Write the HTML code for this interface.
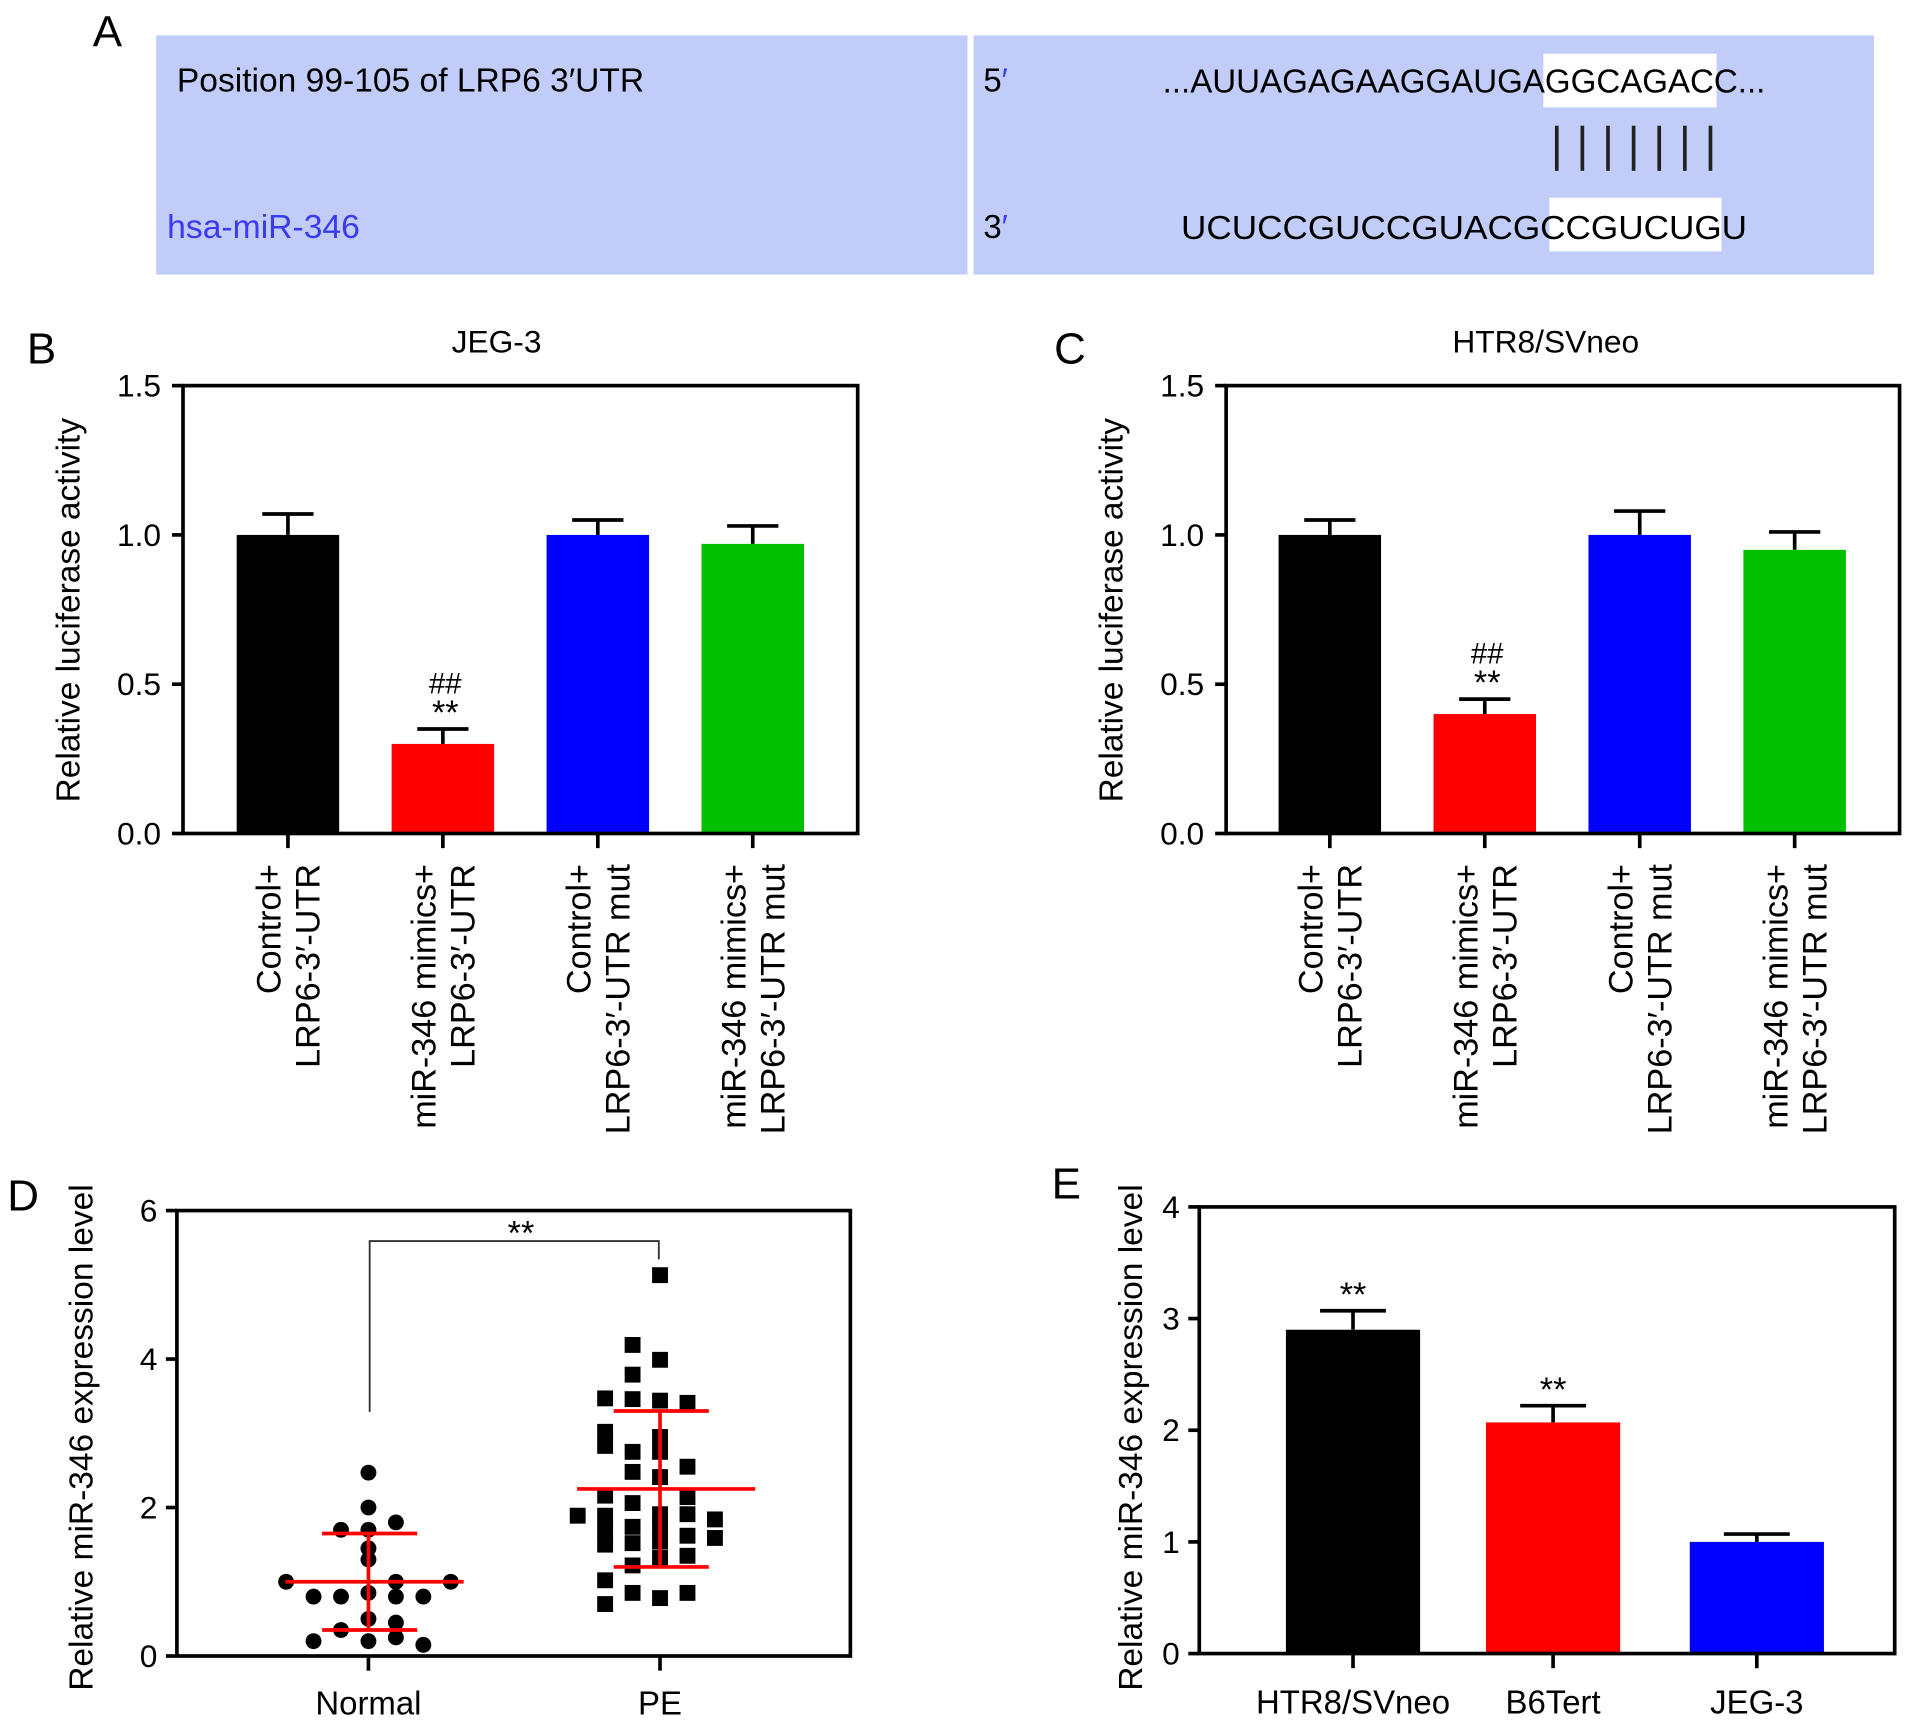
<!DOCTYPE html>
<html><head><meta charset="utf-8"><style>
html,body{margin:0;padding:0;background:#fff;}
svg{display:block;font-family:"Liberation Sans",Arial,sans-serif;}
</style></head><body>
<svg id="fig" width="1913" height="1728" viewBox="0 0 1568 1416" preserveAspectRatio="none" xmlns="http://www.w3.org/2000/svg">
<g>
<text x="76" y="38" font-size="36">A</text>
<rect x="128" y="29" width="665" height="196" fill="#c2ccf8"/>
<rect x="798" y="29" width="738" height="196" fill="#c2ccf8"/>
<rect x="1265" y="44" width="142" height="44" fill="#fff"/>
<rect x="1270" y="162" width="141" height="44" fill="#fff"/>
<text x="145" y="75" font-size="27" textLength="383" lengthAdjust="spacingAndGlyphs">Position 99-105 of LRP6 3′UTR</text>
<text x="137" y="195" font-size="27" fill="#3a3af0" textLength="158" lengthAdjust="spacingAndGlyphs">hsa-miR-346</text>
<text x="806" y="75" font-size="27">5<tspan fill="#3a3af0">′</tspan></text>
<text x="806" y="195" font-size="27">3<tspan fill="#3a3af0">′</tspan></text>
<text x="953" y="76" font-size="27" textLength="494" lengthAdjust="spacingAndGlyphs">...AUUAGAGAAGGAUGAGGCAGACC...</text>
<text x="968" y="196" font-size="27" textLength="464" lengthAdjust="spacingAndGlyphs">UCUCCGUCCGUACGCCGUCUGU</text>
<g id="pairs" stroke="#222" stroke-width="3"></g>
</g>
<g id="chartB"></g>
<g id="chartC"></g>
<g id="chartD"></g>
<g id="chartE"></g>
</svg>
<script>
// ---- data ----
const lucCategories = [["Control+","LRP6-3′-UTR"],["miR-346 mimics+","LRP6-3′-UTR"],["Control+","LRP6-3′-UTR mut"],["miR-346 mimics+","LRP6-3′-UTR mut"]];
const lucColors = ["#000000","#ff0000","#0000ff","#00c000"];
const lucTicks = [0,0.5,1.0,1.5];
const lucTickLabels = ["0.0","0.5","1.0","1.5"];
const jegValues = [1.0,0.30,1.0,0.97];
const jegErrors = [0.07,0.05,0.05,0.06];
const htrValues = [1.0,0.40,1.0,0.95];
const htrErrors = [0.05,0.05,0.08,0.06];
const dCategories = ["Normal","PE"];
const dTicks = [0,2,4,6];
const normalValues = [2.47,2.0,1.8,1.7,1.7,1.45,1.3,1.0,1.0,1.0,0.85,0.8,0.8,0.8,0.8,0.5,0.45,0.35,0.2,0.2,0.25,0.15];
const normalCols   = [0,0,1,-1,0,0,0,-3,1,3,0,-2,-1,1,2,0,1,-1,-2,0,1,2];
const normalStats = [1.0,1.65,0.35];
const peValues = [5.13,4.19,3.99,3.79,3.47,3.46,3.44,3.41,3.02,2.83,2.95,2.75,2.75,2.55,2.48,2.41,2.16,2.14,2.06,1.91,1.89,1.89,1.91,1.84,1.74,1.74,1.69,1.62,1.59,1.5,1.52,1.54,1.35,1.32,1.22,1.02,0.85,0.85,0.78,0.70];
const peCols   = [0,-1,0,-1,-2,-1,0,1,-2,-2,0,-1,0,1,-1,0,-2,1,-1,1,-3,-2,0,2,0,-1,-2,1,2,-2,-1,0,1,0,-1,-2,-1,1,0,-2];
const peStats = [2.25,3.3,1.2];
const eCategories = ["HTR8/SVneo","B6Tert","JEG-3"];
const eValues = [2.9,2.07,1.0];
const eErrors = [0.17,0.15,0.07];
const eColors = ["#000000","#ff0000","#0000ff"];
const eTicks = [0,1,2,3,4];

const NS="http://www.w3.org/2000/svg";
function mk(parent,tag,attrs,text){const e=document.createElementNS(NS,tag);for(const k in attrs)e.setAttribute(k,attrs[k]);if(text!==undefined)e.textContent=text;parent.appendChild(e);return e;}

const pairs=document.getElementById('pairs');
for(let i=0;i<7;i++){const l=mk(pairs,'line',{x1:1276+i*21,x2:1276+i*21,y1:103,y2:140});

}

function axesFrame(g,x0,x1,yTop,yBot,ticks,labels,yScale,tickLabelX){
  const r=mk(g,'rect',{x:x0,y:yTop,width:x1-x0,height:yBot-yTop,fill:'none',stroke:'#000','stroke-width':3});
  
  
  ticks.forEach((t,i)=>{const y=yScale(t);
    const tl=mk(g,'line',{x1:x0-9,x2:x0,y1:y,y2:y,stroke:'#000','stroke-width':3});
    
    
    const tx=mk(g,'text',{x:tickLabelX,y:y+9,'font-size':26,'text-anchor':'end'},labels[i]);
    
    });
}
function ylabel(g,x,y,txt,len){const t=mk(g,'text',{x:x,y:y,'font-size':27,'text-anchor':'middle',textLength:len,lengthAdjust:'spacingAndGlyphs',transform:`rotate(-90 ${x} ${y})`},txt);

}
function panelLetter(g,x,y,L){const t=mk(g,'text',{x:x,y:y,'font-size':36},L);

}

function barPanel(gid,letter,lx,title,titleX,x0,x1,centers,values,errors){
  const g=document.getElementById(gid);
  const yTop=316,yBot=683;
  const ys=v=>yBot-(v/1.5)*(yBot-yTop);
  panelLetter(g,lx,298,letter);
  const tt=mk(g,'text',{x:titleX,y:289,'font-size':26,'text-anchor':'middle'},title);
  
  
  ylabel(g,x0-85,500,'Relative luciferase activity',315);
  values.forEach((v,i)=>{const cx=centers[i];
    const el=mk(g,'line',{x1:cx,x2:cx,y1:ys(v),y2:ys(v+errors[i]),stroke:'#000','stroke-width':3});
    
    
    const ec=mk(g,'line',{x1:cx-21,x2:cx+21,y1:ys(v+errors[i]),y2:ys(v+errors[i]),stroke:'#000','stroke-width':3});
    
    
    const b=mk(g,'rect',{x:cx-42,y:ys(v),width:84,height:yBot-ys(v),fill:lucColors[i]});
    
    
    const tk=mk(g,'line',{x1:cx,x2:cx,y1:yBot,y2:yBot+12,stroke:'#000','stroke-width':3});
    
    
    lucCategories[i].forEach((ln,j)=>{const tx=cx-6+j*32, ty=708;
      const t=mk(g,'text',{x:tx,y:ty,'font-size':28,'text-anchor':'end',transform:`rotate(-90 ${tx} ${ty})`},ln);
      
      });
  });
  axesFrame(g,x0,x1,yTop,yBot,lucTicks,lucTickLabels,ys,x0-18);
  const ai=1, top=ys(values[ai]+errors[ai]);
  const s1=mk(g,'text',{x:centers[ai]+2,y:top-4,'font-size':28,'text-anchor':'middle'},'**');
  
  
  const s2=mk(g,'text',{x:centers[ai]+2,y:top-29,'font-size':24,'text-anchor':'middle'},'##');
  
  
}
barPanel('chartB','B',22,'JEG-3',407,150,703,[236,363,490,617],jegValues,jegErrors);
barPanel('chartC','C',864,'HTR8/SVneo',1267,1005,1557,[1090,1217,1344,1471],htrValues,htrErrors);

(function(){
  const g=document.getElementById('chartD');
  const x0=145,x1=697,yTop=992,yBot=1357;
  const ys=v=>yBot-(v/6)*(yBot-yTop);
  const xc=[302,541], colW=22.5;
  panelLetter(g,6,992,'D');
  ylabel(g,76,1178,'Relative miR-346 expression level',415);
  axesFrame(g,x0,x1,yTop,yBot,dTicks,dTicks.map(String),ys,x0-16);
  dCategories.forEach((c,i)=>{
    const tk=mk(g,'line',{x1:xc[i],x2:xc[i],y1:yBot,y2:yBot+12,stroke:'#000','stroke-width':3});
    
    
    const t=mk(g,'text',{x:xc[i],y:1405,'font-size':27,'text-anchor':'middle'},c);
    
    });
  normalValues.forEach((v,i)=>{const p=mk(g,'circle',{cx:xc[0]+normalCols[i]*colW,cy:ys(v),r:6.5,fill:'#000'});
    
    });
  peValues.forEach((v,i)=>{const p=mk(g,'rect',{x:xc[1]+peCols[i]*colW-6.5,y:ys(v)-6.5,width:13,height:13,fill:'#000'});
    
    });
  [normalStats,peStats].forEach((s,i)=>{const cx=xc[i];
    const ml=mk(g,'line',{x1:cx-68,x2:cx+78,y1:ys(s[0]),y2:ys(s[0]),stroke:'#f00','stroke-width':3});
    
    
    const vl=mk(g,'line',{x1:cx,x2:cx,y1:ys(s[1]),y2:ys(s[2]),stroke:'#f00','stroke-width':3});
    
    
    [1,2].forEach(k=>{const cl=mk(g,'line',{x1:cx-38,x2:cx+40,y1:ys(s[k]),y2:ys(s[k]),stroke:'#f00','stroke-width':3});
      
      });
  });
  const br=mk(g,'polyline',{points:`${xc[0]+1},1157 ${xc[0]+1},1017 ${xc[1]-1},1017 ${xc[1]-1},1032`,fill:'none',stroke:'#333','stroke-width':1.5});
  
  
  const st=mk(g,'text',{x:427,y:1020,'font-size':28,'text-anchor':'middle'},'**');
  
  
})();

(function(){
  const g=document.getElementById('chartE');
  const x0=983,x1=1553,yTop=989,yBot=1355;
  const ys=v=>yBot-(v/4)*(yBot-yTop);
  const xc=[1109,1273,1440];
  panelLetter(g,862,982,'E');
  ylabel(g,936,1178,'Relative miR-346 expression level',415);
  eValues.forEach((v,i)=>{const cx=xc[i];
    const el=mk(g,'line',{x1:cx,x2:cx,y1:ys(v),y2:ys(v+eErrors[i]),stroke:'#000','stroke-width':3});
    
    
    const ec=mk(g,'line',{x1:cx-27,x2:cx+27,y1:ys(v+eErrors[i]),y2:ys(v+eErrors[i]),stroke:'#000','stroke-width':3});
    
    
    const b=mk(g,'rect',{x:cx-55,y:ys(v),width:110,height:yBot-ys(v),fill:eColors[i]});
    
    
    const tk=mk(g,'line',{x1:cx,x2:cx,y1:yBot,y2:yBot+12,stroke:'#000','stroke-width':3});
    
    
    const t=mk(g,'text',{x:cx,y:1404,'font-size':27,'text-anchor':'middle'},eCategories[i]);
    
    
    if(i<2){const s=mk(g,'text',{x:cx,y:ys(v+eErrors[i])-4,'font-size':28,'text-anchor':'middle'},'**');
      
      }
  });
  axesFrame(g,x0,x1,yTop,yBot,eTicks,eTicks.map(String),ys,x0-16);
})();
</script>
</body></html>
